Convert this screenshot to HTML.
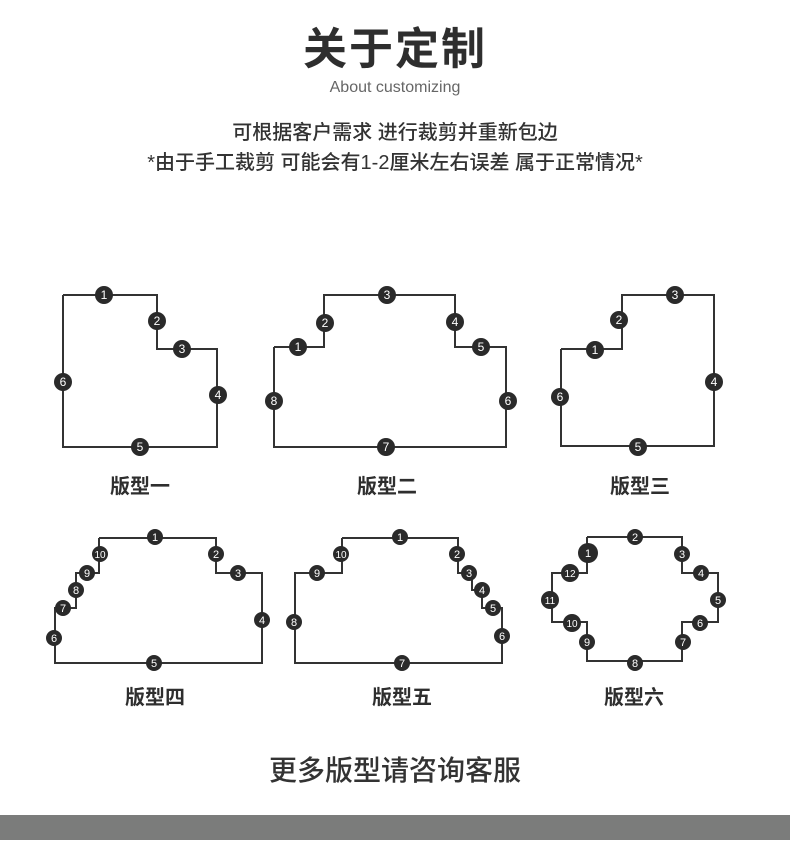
<!DOCTYPE html>
<html><head><meta charset="utf-8"><style>
html,body{margin:0;padding:0;background:#fff;}
body{width:790px;height:852px;position:relative;overflow:hidden;font-family:"Liberation Sans","Noto Sans CJK SC",sans-serif;}
.t{position:absolute;left:0;width:790px;text-align:center;color:#333;}
</style></head><body>
<div class="t" style="top:22px;font-size:44px;font-weight:bold;color:#2e2e2e;line-height:56px;letter-spacing:2px;">关于定制</div>
<div class="t" style="top:78px;font-size:16px;color:#666;line-height:20px;">About customizing</div>
<div class="t" style="top:120px;font-size:20px;line-height:26px;font-weight:500;">可根据客户需求 进行裁剪并重新包边</div>
<div class="t" style="top:150px;font-size:20px;line-height:26px;font-weight:500;">*由于手工裁剪 可能会有1-2厘米左右误差 属于正常情况*</div>
<div class="t" style="top:753px;font-size:28px;line-height:36px;font-weight:500;">更多版型请咨询客服</div>
<div style="position:absolute;left:0;top:815px;width:790px;height:25px;background:#7b7c7b;"></div>
<svg width="790" height="852" style="position:absolute;left:0;top:0" xmlns="http://www.w3.org/2000/svg">
<g fill="none" stroke="#333" stroke-width="2">
<polyline points="63,295 157,295 157,349 217,349 217,447 63,447 63,295"/>
<polyline points="274,347 324,347 324,295 455,295 455,347 506,347 506,447 274,447 274,347"/>
<polyline points="561,349 622,349 622,295 714,295 714,446 561,446 561,349"/>
<polyline points="99,538 216,538 216,573 262,573 262,663 55,663 55,608 76,608 76,573 99,573 99,538"/>
<polyline points="342,538 458,538 458,573 472,573 472,590 482,590 482,608 502,608 502,663 295,663 295,573 342,573 342,538"/>
<polyline points="587,537 682,537 682,573 718,573 718,622 682,622 682,661 587,661 587,622 552,622 552,573 587,573 587,537"/>
</g>
<g font-family="Liberation Sans,sans-serif" font-size="12" fill="#fff" text-anchor="middle">
<!-- badges generated inline -->
<g id="b"></g>
</g>
<g fill="#2a2a2a">
<circle cx="104" cy="295" r="9"/><circle cx="157" cy="321" r="9"/><circle cx="182" cy="349" r="9"/><circle cx="218" cy="395" r="9"/><circle cx="140" cy="447" r="9"/><circle cx="63" cy="382" r="9"/>
<circle cx="298" cy="347" r="9"/><circle cx="325" cy="323" r="9"/><circle cx="387" cy="295" r="9"/><circle cx="455" cy="322" r="9"/><circle cx="481" cy="347" r="9"/><circle cx="508" cy="401" r="9"/><circle cx="386" cy="447" r="9"/><circle cx="274" cy="401" r="9"/>
<circle cx="595" cy="350" r="9"/><circle cx="619" cy="320" r="9"/><circle cx="675" cy="295" r="9"/><circle cx="714" cy="382" r="9"/><circle cx="638" cy="447" r="9"/><circle cx="560" cy="397" r="9"/>
<circle cx="155" cy="537" r="8"/><circle cx="216" cy="554" r="8"/><circle cx="238" cy="573" r="8"/><circle cx="262" cy="620" r="8"/><circle cx="154" cy="663" r="8"/><circle cx="54" cy="638" r="8"/><circle cx="63" cy="608" r="8"/><circle cx="76" cy="590" r="8"/><circle cx="87" cy="573" r="8"/><circle cx="100" cy="554" r="8"/>
<circle cx="400" cy="537" r="8"/><circle cx="457" cy="554" r="8"/><circle cx="469" cy="573" r="8"/><circle cx="482" cy="590" r="8"/><circle cx="493" cy="608" r="8"/><circle cx="502" cy="636" r="8"/><circle cx="402" cy="663" r="8"/><circle cx="294" cy="622" r="8"/><circle cx="317" cy="573" r="8"/><circle cx="341" cy="554" r="8"/>
<circle cx="635" cy="537" r="8"/><circle cx="588" cy="553" r="10"/><circle cx="570" cy="573" r="9"/><circle cx="550" cy="600" r="9"/><circle cx="572" cy="623" r="9"/><circle cx="587" cy="642" r="8"/><circle cx="635" cy="663" r="8"/><circle cx="683" cy="642" r="8"/><circle cx="700" cy="623" r="8"/><circle cx="718" cy="600" r="8"/><circle cx="701" cy="573" r="8"/><circle cx="682" cy="554" r="8"/>
</g>
<g font-family="Liberation Sans,sans-serif" fill="#fff" text-anchor="middle" font-size="12">
<text x="104" y="299">1</text><text x="157" y="325">2</text><text x="182" y="353">3</text><text x="218" y="399">4</text><text x="140" y="451">5</text><text x="63" y="386">6</text>
<text x="298" y="351">1</text><text x="325" y="327">2</text><text x="387" y="299">3</text><text x="455" y="326">4</text><text x="481" y="351">5</text><text x="508" y="405">6</text><text x="386" y="451">7</text><text x="274" y="405">8</text>
<text x="595" y="354">1</text><text x="619" y="324">2</text><text x="675" y="299">3</text><text x="714" y="386">4</text><text x="638" y="451">5</text><text x="560" y="401">6</text>
</g>
<g font-family="Liberation Sans,sans-serif" fill="#fff" text-anchor="middle" font-size="11">
<text x="155" y="541">1</text><text x="216" y="558">2</text><text x="238" y="577">3</text><text x="262" y="624">4</text><text x="154" y="667">5</text><text x="54" y="642">6</text><text x="63" y="612">7</text><text x="76" y="594">8</text><text x="87" y="577">9</text><text x="100" y="558" font-size="10">10</text>
<text x="400" y="541">1</text><text x="457" y="558">2</text><text x="469" y="577">3</text><text x="482" y="594">4</text><text x="493" y="612">5</text><text x="502" y="640">6</text><text x="402" y="667">7</text><text x="294" y="626">8</text><text x="317" y="577">9</text><text x="341" y="558" font-size="10">10</text>
<text x="635" y="541">2</text><text x="588" y="557">1</text><text x="570" y="577" font-size="10">12</text><text x="550" y="604" font-size="10">11</text><text x="572" y="627" font-size="10">10</text><text x="587" y="646">9</text><text x="635" y="667">8</text><text x="683" y="646">7</text><text x="700" y="627">6</text><text x="718" y="604">5</text><text x="701" y="577">4</text><text x="682" y="558">3</text>
</g>
<g font-family="Liberation Sans,Noto Sans CJK SC,sans-serif" font-size="20" font-weight="bold" fill="#2e2e2e" text-anchor="middle">
<text x="140" y="493">版型一</text><text x="387" y="493">版型二</text><text x="640" y="493">版型三</text>
<text x="155" y="704">版型四</text><text x="402" y="704">版型五</text><text x="634" y="704">版型六</text>
</g>
</svg>
</body></html>
